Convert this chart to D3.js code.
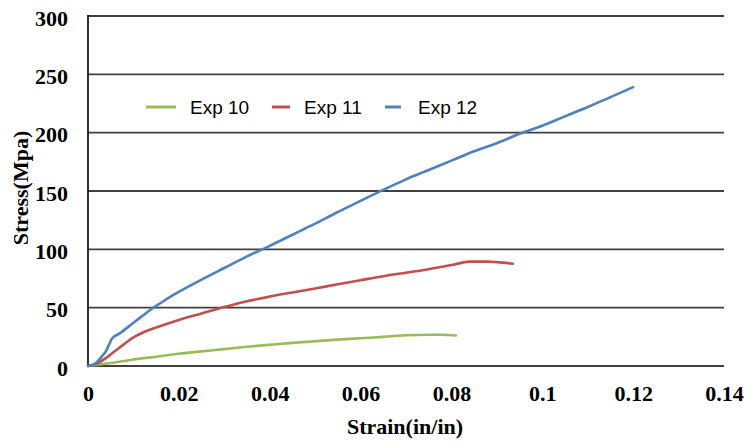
<!DOCTYPE html>
<html><head><meta charset="utf-8">
<script src="https://cdn.jsdelivr.net/npm/d3@7"></script>
<style>body{margin:0;background:#fff;}</style>
</head><body>
<svg id="c" width="749" height="444"></svg>
<script>
const seriesNames = ["Exp 10", "Exp 11", "Exp 12"];
const seriesColors = ["#9BBB59", "#C0504D", "#4F81BD"];
const exp10 = [[0,0],[0.002,1],[0.005,2.5],[0.01,5.5],[0.015,8],[0.02,10.5],[0.025,12.5],[0.03,14.5],[0.035,16.5],[0.04,18.2],[0.045,19.8],[0.05,21.2],[0.055,22.6],[0.06,23.8],[0.065,25],[0.07,26.3],[0.075,26.8],[0.078,26.8],[0.081,26.2]];
const exp11 = [[0,0],[0.002,2],[0.004,7],[0.006,13],[0.008,19],[0.01,24.5],[0.012,28.5],[0.015,33],[0.02,39.5],[0.025,45],[0.03,50.5],[0.035,55.5],[0.04,59.5],[0.045,63],[0.05,66.5],[0.055,70],[0.06,73.5],[0.065,77],[0.07,80],[0.075,83],[0.08,86.5],[0.084,89.5],[0.088,89.5],[0.09,89],[0.0935,87.7]];
const exp12 = [[0,0],[0.001,1],[0.002,3.5],[0.003,8],[0.004,13],[0.0047,19],[0.0053,23.5],[0.007,28],[0.01,37],[0.012,43],[0.014,49],[0.016,54],[0.018,59],[0.02,63.5],[0.025,74],[0.03,84],[0.035,94],[0.04,103],[0.045,112.5],[0.05,122],[0.055,132],[0.06,141.5],[0.065,151],[0.07,160],[0.075,168],[0.08,176],[0.085,184],[0.09,191],[0.095,199],[0.1,206],[0.105,214],[0.11,222],[0.115,230.5],[0.12,239]];
const xTicks = [0,0.02,0.04,0.06,0.08,0.1,0.12,0.14];
const yTicks = [0,50,100,150,200,250,300];

const svg = d3.select("#c");
const L=88, R=724, T=16, B=366;
const x = d3.scaleLinear().domain([0,0.14]).range([L,R]);
const y = d3.scaleLinear().domain([0,300]).range([B,T]);

svg.append("g").selectAll("line").data(yTicks).join("line")
  .attr("x1",L).attr("x2",R).attr("y1",d=>y(d)).attr("y2",d=>y(d))
  .attr("stroke","#404040").attr("stroke-width",1.8);
svg.append("line").attr("x1",L).attr("x2",L).attr("y1",T-1).attr("y2",B+1)
  .attr("stroke","#000").attr("stroke-width",1.6);

const font = "Liberation Serif";
const yAxis = d3.axisLeft(y).tickValues(yTicks).tickSize(0).tickPadding(20).tickFormat(d3.format("d"));
const ga = svg.append("g").attr("transform",`translate(${L},2)`).call(yAxis);
ga.select(".domain").remove();
ga.attr("font-family",font).attr("font-size",22);
ga.selectAll("text").style("font-family",font).style("font-weight","bold").style("font-size","22px").attr("fill","#000");
const xAxis = d3.axisBottom(x).tickValues(xTicks).tickSize(0).tickPadding(19).tickFormat(d=>d===0?"0":String(d));
const gx = svg.append("g").attr("transform",`translate(0,${B})`).call(xAxis);
gx.select(".domain").remove();
gx.attr("font-family",font).attr("font-size",22);
gx.selectAll("text").style("font-family",font).style("font-weight","bold").style("font-size","22px").attr("fill","#000");

svg.append("text").attr("x",405).attr("y",434).attr("text-anchor","middle")
  .style("font-family",font).style("font-weight","bold").style("font-size","22px").text("Strain(in/in)");
svg.append("text").attr("transform","translate(28,188) rotate(-90)").attr("text-anchor","middle")
  .style("font-family",font).style("font-weight","bold").style("font-size","22px").text("Stress(Mpa)");

const line = d3.line().x(d=>x(d[0])).y(d=>y(d[1])).curve(d3.curveMonotoneX);
[exp10,exp11,exp12].forEach((s,i)=>{
  svg.append("path").datum(s).attr("d",line).attr("fill","none")
    .attr("stroke",seriesColors[i]).attr("stroke-width",2.6).attr("stroke-linejoin","round").attr("stroke-linecap","round");
});

const leg = [{x1:146,x2:176,tx:190},{x1:272,x2:290,tx:304},{x1:385,x2:401,tx:418}];
leg.forEach((l,i)=>{
  svg.append("line").attr("x1",l.x1).attr("x2",l.x2).attr("y1",107).attr("y2",107)
    .attr("stroke",seriesColors[i]).attr("stroke-width",3);
  svg.append("text").attr("x",l.tx).attr("y",114).style("font-family","Liberation Sans")
    .style("font-size","19px").attr("fill","#000").text(seriesNames[i]);
});
</script>
</body></html>
